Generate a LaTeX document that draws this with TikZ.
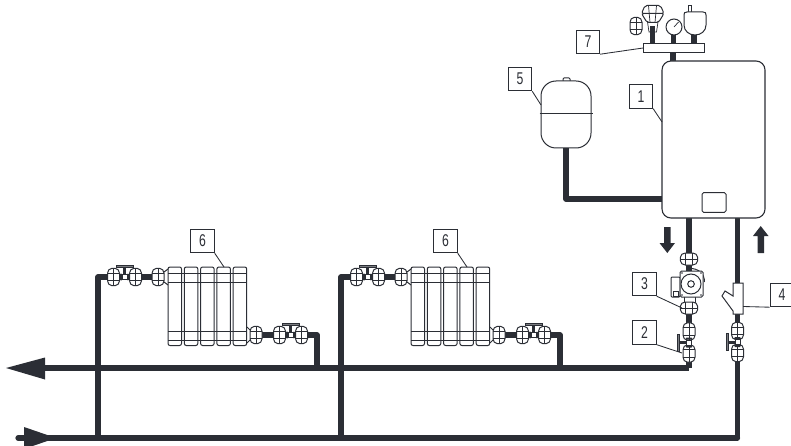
\documentclass[tikz,border=0pt]{standalone}
\usepackage{fontspec}
\setmainfont[FakeStretch=0.72]{Liberation Sans}
\definecolor{ink}{HTML}{2B2E35}
\definecolor{hand}{HTML}{7A7C80}
\tikzset{
  pipe/.style={draw=ink,line width=5.2pt,line join=round},
  thin line/.style={draw=ink,line width=1pt},
  fine line/.style={draw=ink,line width=0.7pt},
  leader/.style={draw=ink,line width=0.85pt},
  tag/.style={draw=ink,line width=0.9pt,fill=white,minimum width=23.5pt,minimum height=23.5pt,inner sep=0pt,font=\fontsize{17}{17}\selectfont,text=ink},
  unionpic/.pic={
    \draw[thin line,fill=white,rounded corners=1.8pt] (-6,-5.5) -- (-3.5,-8.6) -- (3.5,-8.6) -- (6,-5.5) -- (6,5.5) -- (3.5,8.6) -- (-3.5,8.6) -- (-6,5.5) -- cycle;
    \draw[fine line] (-6,-3.8) -- (6,-3.8) (-6,3.8) -- (6,3.8);
    \draw[draw=ink,line width=1pt] (0,-8.6) -- (0,8.6);
  },
  valvepic/.pic={
    \fill[ink] (-6,-2.6) rectangle (6,2.6);
    \fill[ink] (-1.5,-10) rectangle (1.5,0);
    \draw[fine line,fill=hand] (-8.5,-11.5) rectangle (8.5,-9.3);
    \pic at (-11,0) {unionpic};
    \pic at (11,0) {unionpic};
    \fill[ink] (-5,-2.6) -- (-3,-3.5) -- (-3,3.5) -- (-5,2.6) -- cycle (5,-2.6) -- (3,-3.5) -- (3,3.5) -- (5,2.6) -- cycle;
    \draw[fine line,fill=white] (-2.6,-2.6) rectangle (2.6,2.6);
  }
}
\newcommand{\radiator}[1]{%
  \begin{scope}[xshift=#1pt]
    \node[tag] (six#1) at (202.5,241) {6};
    \foreach \i in {0,1,2,3,4}{
      \draw[thin line,rounded corners=2pt] ({168+16.3*\i},267) rectangle ({181.5+16.3*\i},345.5);
    }
    \draw[fine line] (168,273) -- (247,273) (168,282) -- (247,282) (168,331.5) -- (247,331.5) (168,340) -- (247,340);
    \coordinate (rt#1) at (224,267);
    \draw[leader] (six#1.south east) -- (rt#1);
    \coordinate (ra#1) at (98,277);
    \coordinate (rb#1) at (98,438);
    \coordinate (rc#1) at (160,277);
    \coordinate (rd#1) at (250,335);
    \coordinate (re#1) at (317,335);
    \coordinate (rf#1) at (317,368);
    \draw[pipe] (rb#1) -- (ra#1) -- (rc#1);
    \draw[pipe] (rd#1) -- (re#1) -- (rf#1);
    \pic at (124.5,277) {valvepic};
    \pic at (158,277) {unionpic};
    \draw[thin line] (164,272) -- (168,269) (164,282) -- (168,285);
    \pic at (256,335) {unionpic};
    \draw[thin line] (250,330) -- (247,327) (250,340) -- (247,343);
    \pic at (290.5,335) {valvepic};
  \end{scope}
}
\begin{document}
\begin{tikzpicture}[x=1pt,y=-1pt]
\useasboundingbox (0,0) rectangle (791,446);
% main lines
\coordinate (supL) at (38,368);
\coordinate (supR) at (689,368);
\coordinate (retL) at (18,438);
\coordinate (retR) at (737.5,438);
\draw[pipe,line cap=round] (retL) -- (retR);
\draw[pipe] (supL) -- (supR);
\fill[ink] (6,368) -- (45,357.5) -- (45,379.5) -- cycle;
\fill[ink] (56,438) -- (24,427) -- (24,449) -- cycle;
% radiators
\radiator{0}
\radiator{243}
% boiler pipes
\coordinate (pL) at (689,218);
\coordinate (pR) at (737.5,218);
\coordinate (tankB) at (566,148);
\coordinate (tankC) at (566,199);
\coordinate (boilL) at (662,199);
\draw[pipe] (tankB) -- (tankC) -- (boilL);
\draw[pipe] (pL) -- (supR);
\draw[pipe] (pR) -- (retR);
% manifold stubs
\coordinate (s0a) at (673,53); \coordinate (s0b) at (673,61);
\coordinate (s1a) at (652.7,26); \coordinate (s1b) at (652.7,44);
\coordinate (s2a) at (673.3,30); \coordinate (s2b) at (673.3,44);
\coordinate (s3a) at (694,30); \coordinate (s3b) at (694,44);
\draw[pipe] (s0a) -- (s0b) (s1a) -- (s1b) (s2a) -- (s2b) (s3a) -- (s3b);
% boiler
\node[draw=ink,line width=1.1pt,fill=white,rounded corners=9pt,minimum width=103pt,minimum height=157pt,inner sep=0pt] (boiler) at (713.5,139.5) {};
\node[draw=ink,line width=1pt,rounded corners=1.5pt,minimum width=24pt,minimum height=19.5pt,inner sep=0pt] (panel) at (714,202.5) {};
% tank
\draw[thin line,fill=white,rounded corners=1pt] (563,81) -- (563,78) -- (570,78) -- (570,81);
\draw[thin line,fill=white,rounded corners=15pt] (541,81) rectangle (591,148);
\draw[thin line] (539.5,114) -- (593,114);
% manifold
\node[draw=ink,line width=1pt,fill=white,minimum width=61pt,minimum height=9pt,inner sep=0pt] (bar) at (673.5,48.5) {};
% gauge
\node[draw=ink,line width=1pt,fill=white,circle,minimum size=16pt,inner sep=0pt] (gauge) at (674,27) {};
\draw[fine line] (gauge.center) -- (678.5,22);
% small vessel
\draw[thin line,fill=white] (688,12) -- (688,5.5) -- (691,5.5) -- (691,12);
\draw[thin line,fill=white] (687,12) -- (703,12) .. controls (705.5,12) and (706,13) .. (706,15) -- (706,25) .. controls (706,31) and (701,35) .. (695,35) .. controls (689,35) and (684,31) .. (684,25) -- (684,15) .. controls (684,13) and (684.5,12) .. (687,12) -- cycle;
% air valve at the top
\draw[fine line,fill=white] (647.5,22) -- (658,22) -- (656.5,32) -- (649,32) -- cycle;
\fill[ink] (650.3,26) rectangle (655.2,32);
\draw[thin line,fill=white,rounded corners=2pt] (641.5,13.5) -- (664,13.5) -- (658.5,22.5) -- (647,22.5) -- cycle;
\draw[thin line,fill=white,rounded corners=2pt] (645,5.5) -- (660.5,5.5) -- (664,13.5) -- (641.5,13.5) -- cycle;
\draw[fine line] (648.5,5.5) -- (650,22.5) (656.5,5.5) -- (655,22.5);
\pic at (636,26) {unionpic};
% boiler arrows
\fill[ink] (664,227) rectangle (670.5,243) (659.5,243) -- (675,243) -- (667.3,253) -- cycle;
\fill[ink] (757.5,253) rectangle (764,236) (753,236) -- (768.5,236) -- (760.7,226) -- cycle;
% left fittings
\pic[rotate=90] at (689,259) {unionpic};
\draw[thin line,fill=white] (684.5,296) rectangle (695,303);
\pic[rotate=90] at (689,308) {unionpic};
\draw[thin line,fill=white,rounded corners=1pt] (671,277) rectangle (680,297);
\draw[fine line] (673.5,291) rectangle (678.5,296);
\draw[draw=ink,line width=1pt] (689,268.3) .. controls (698,268.3) and (704.5,273) .. (704.5,282);
\draw[thin line,fill=white,rounded corners=1.5pt] (680,271) rectangle (703,297);
\fill[ink] (682,273) circle[radius=0.9] (701,273) circle[radius=0.9] (682,295) circle[radius=0.9] (701,295) circle[radius=0.9];
\draw[thin line] (691,284) circle[radius=10];
\draw[thin line] (691,284) circle[radius=3.3];
\pic[rotate=90] at (689,342.5) {valvepic};
% right fittings
\pic[rotate=90] at (737.5,342) {valvepic};
\draw[thin line,fill=white] (733,296) -- (725,291) -- (722,296) -- (733,311) -- (733,314) -- (743,314) -- (743,283) -- (733,283) -- cycle;
% labels
\node[tag] (n7) at (588,42) {7};
\node[tag] (n5) at (520,79) {5};
\node[tag] (n1) at (641,96.5) {1};
\node[tag] (n3) at (644.5,284) {3};
\node[tag] (n2) at (644.5,332.5) {2};
\node[tag,minimum width=24pt] (n4) at (782,295) {4};
\coordinate (t7) at (643,48);
\coordinate (t5) at (541,105);
\coordinate (t1) at (662,122);
\coordinate (t3) at (682,308);
\coordinate (t2) at (682,353);
\coordinate (t4) at (743,306.5);
\draw[leader] (n7.south east) -- (t7);
\draw[leader] (n5.south east) -- (t5);
\draw[leader] (n1.south east) -- (t1);
\draw[leader] (n3.south east) -- (t3);
\draw[leader] (n2.south east) -- (t2);
\draw[leader] (n4.south west) -- (t4);
\end{tikzpicture}
\end{document}
